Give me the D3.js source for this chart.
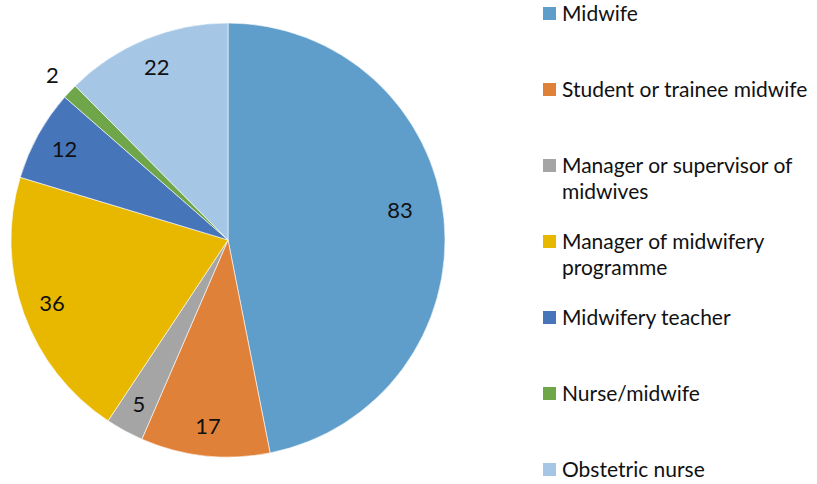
<!DOCTYPE html>
<html>
<head>
<script src="https://d3js.org/d3.v7.min.js"></script>
<style>
body { margin: 0; background: white; }
text { font-family: Lato, "Open Sans", sans-serif; fill: #111; }
</style>
</head>
<body>
<svg class="chart" width="817" height="484"></svg>
<script>
var roles = ["Midwife", "Student or trainee midwife", "Manager or supervisor of midwives", "Manager of midwifery programme", "Midwifery teacher", "Nurse/midwife", "Obstetric nurse"]
var counts = [83, 17, 5, 36, 12, 2, 22]
var colours = ["#5f9dca", "#df8138", "#a5a5a5", "#e8b800", "#4775ba", "#70a64a", "#a5c6e4"]
// legend text split over lines the way the original wraps it
var legendLines = [["Midwife"], ["Student or trainee midwife"], ["Manager or supervisor of", "midwives"], ["Manager of midwifery", "programme"], ["Midwifery teacher"], ["Nurse/midwife"], ["Obstetric nurse"]]

var svg = d3.select(".chart")
var cx = 228, cy = 240, r = 217

var pie = d3.pie().sort(null).value(function(d){ return d; })
var arcs = pie(counts)
var arc = d3.arc().innerRadius(0).outerRadius(r)
var labelArc = d3.arc().innerRadius(187).outerRadius(187)
var outerLabelArc = d3.arc().innerRadius(241).outerRadius(241)

var g = svg.append("g").attr("transform", "translate(" + cx + "," + cy + ")")
g.selectAll("path").data(arcs).enter().append("path")
  .attr("d", arc)
  .attr("fill", function(d, i){ return colours[i]; })
  .attr("stroke", "white").attr("stroke-width", 0.6)

g.selectAll("text").data(arcs).enter().append("text")
  .attr("transform", function(d){
    var a = (d.endAngle - d.startAngle) < 0.1 ? outerLabelArc : labelArc
    var c = a.centroid(d)
    if (d.index == 0) { c = [c[0] - 14, c[1] - 12] }
    return "translate(" + c + ")"
  })
  .attr("text-anchor", "middle").attr("dy", "0.36em")
  .style("font-size", "22px")
  .text(function(d){ return d.data; })

var legend = svg.append("g").attr("transform", "translate(543,0)")
var rowY = d3.scaleLinear().domain([0, 6]).range([21, 477])
var item = legend.selectAll("g").data(roles).enter().append("g")
  .attr("transform", function(d, i){ return "translate(0," + rowY(i) + ")"; })
item.append("rect").attr("x", 0).attr("y", -14).attr("width", 13).attr("height", 13)
  .attr("fill", function(d, i){ return colours[i]; })
item.append("text").attr("x", 19).style("font-size", "21px")
  .selectAll("tspan").data(function(d, i){ return legendLines[i]; }).enter().append("tspan")
  .attr("x", 19).attr("dy", function(d, j){ return j == 0 ? 0 : 26; })
  .text(function(d){ return d; })
</script>
</body>
</html>
